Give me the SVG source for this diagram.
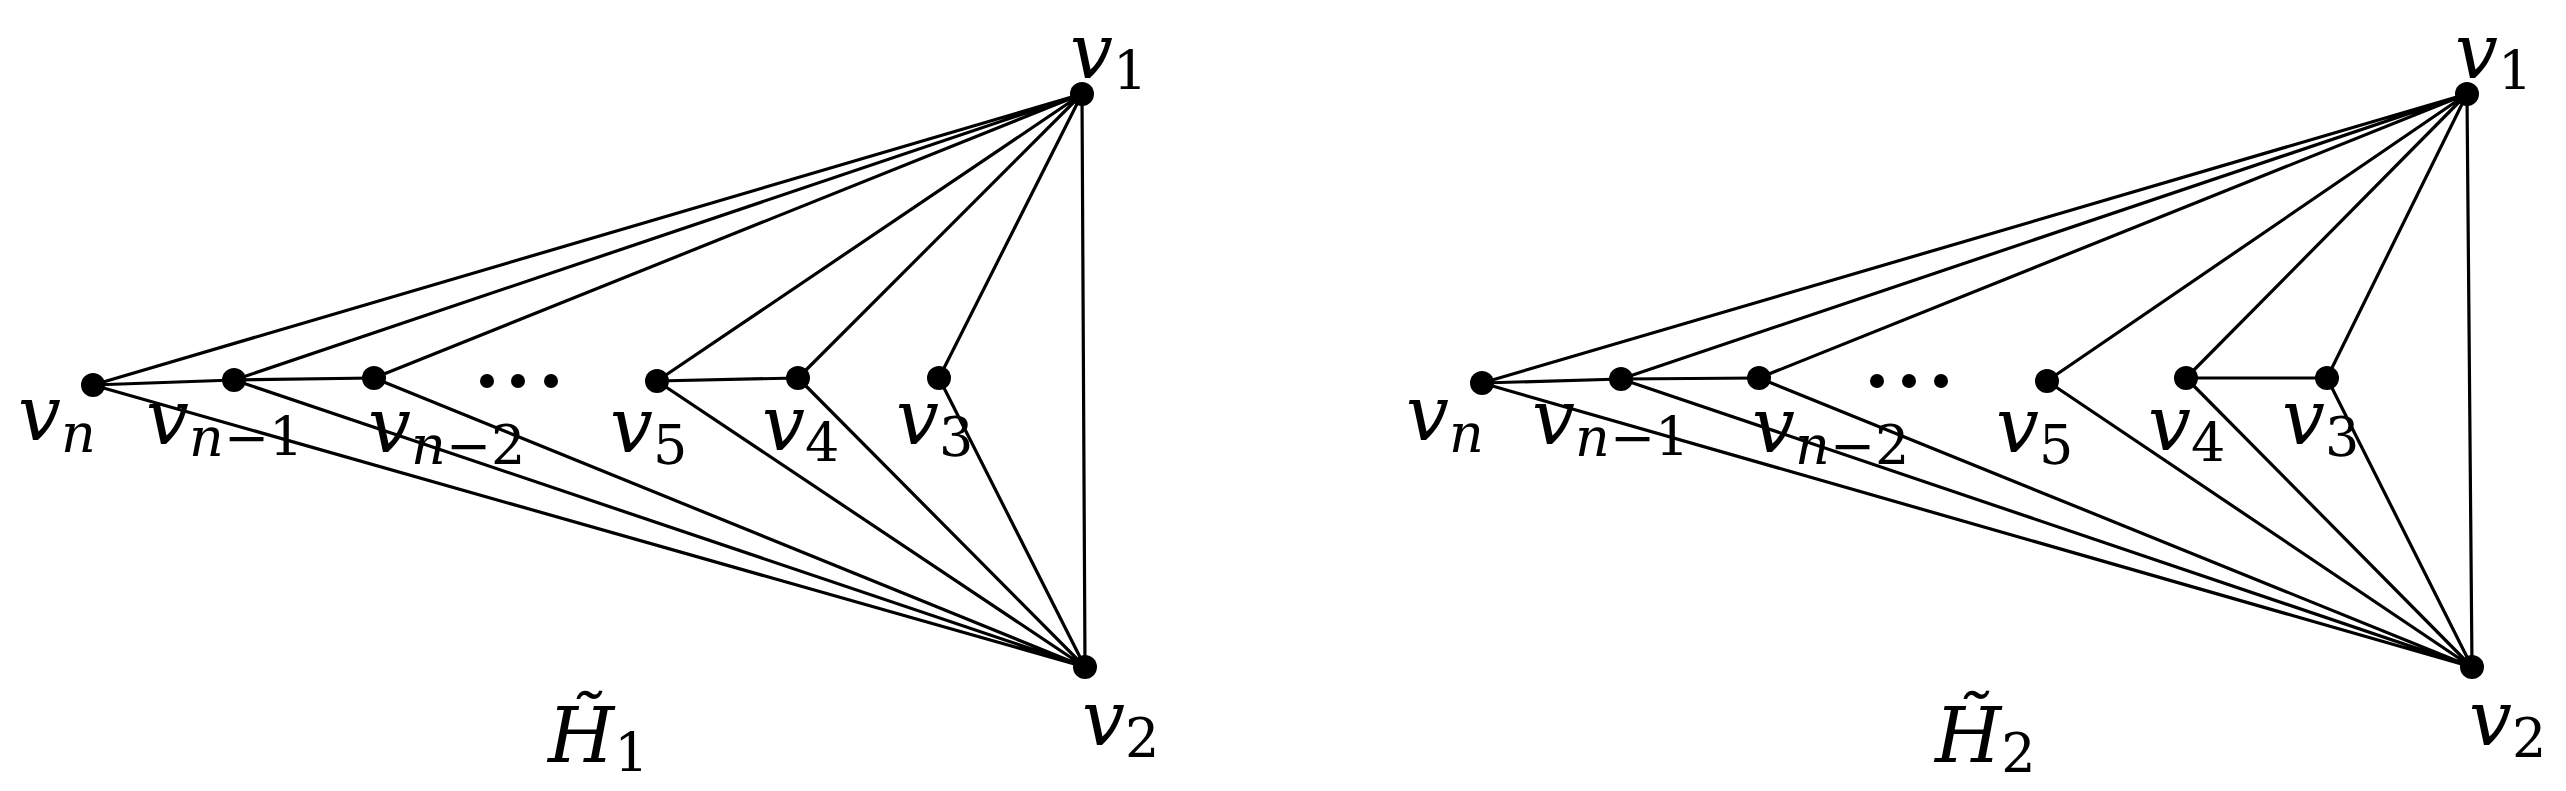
<svg xmlns="http://www.w3.org/2000/svg" width="2566" height="791" viewBox="0 0 2566 791">
<style>
.e{stroke:#000;stroke-width:3.2;fill:none}
.n{fill:#000}
text{font-family:"DejaVu Serif","Liberation Serif",serif;font-size:76px;fill:#000}
.i{font-style:italic}
.s{font-size:54px}
</style>
<rect width="2566" height="791" fill="#fff"/>
<g id="connectors">
<g class="e">
<path d="M1082 94L93 385M1082 94L234 380M1082 94L374 378M1082 94L657 381M1082 94L798 378M1082 94L939 378M1082 94L1085 667"/>
<path d="M1085 667L93 385M1085 667L234 380M1085 667L374 378M1085 667L657 381M1085 667L798 378M1085 667L939 378"/>
<path d="M93 385L234 380L374 378M657 381L798 378"/>
<path d="M2467 94L1482 383M2467 94L1621 379M2467 94L1759 378M2467 94L2047 381M2467 94L2186 378M2467 94L2327 378M2467 94L2472 667"/>
<path d="M2472 667L1482 383M2472 667L1621 379M2472 667L1759 378M2472 667L2047 381M2472 667L2186 378M2472 667L2327 378"/>
<path d="M1482 383L1621 379L1759 378M2186 378L2327 378"/>
</g>
</g>
<g id="H1">
<g id="h1v1"><circle class="n" cx="1082" cy="94" r="12"/><text x="1070" y="78"><tspan class="i">v</tspan><tspan class="s" dy="12">1</tspan></text></g>
<g id="h1v2"><circle class="n" cx="1085" cy="667" r="12"/><text x="1082" y="745"><tspan class="i">v</tspan><tspan class="s" dy="12">2</tspan></text></g>
<g id="h1vn"><circle class="n" cx="93" cy="385" r="12"/><text x="18" y="440"><tspan class="i">v</tspan><tspan class="s i" dy="12">n</tspan></text></g>
<g id="h1vn1"><circle class="n" cx="234" cy="380" r="12"/><text x="146" y="444"><tspan class="i">v</tspan><tspan class="s" dy="12"><tspan class="i">n</tspan>−1</tspan></text></g>
<g id="h1vn2"><circle class="n" cx="374" cy="378" r="12"/><text x="368" y="452"><tspan class="i">v</tspan><tspan class="s" dy="12"><tspan class="i">n</tspan>−2</tspan></text></g>
<g id="h1dots"><circle class="n" cx="487" cy="381" r="7"/><circle class="n" cx="518" cy="381" r="7"/><circle class="n" cx="551" cy="381" r="7"/></g>
<g id="h1v5"><circle class="n" cx="657" cy="381" r="12"/><text x="610" y="452"><tspan class="i">v</tspan><tspan class="s" dy="12">5</tspan></text></g>
<g id="h1v4"><circle class="n" cx="798" cy="378" r="12"/><text x="762" y="450"><tspan class="i">v</tspan><tspan class="s" dy="12">4</tspan></text></g>
<g id="h1v3"><circle class="n" cx="939" cy="378" r="12"/><text x="896" y="444"><tspan class="i">v</tspan><tspan class="s" dy="12">3</tspan></text></g>
<g id="h1label"><text x="548" y="762"><tspan class="i">H̃</tspan><tspan class="s" dy="10">1</tspan></text></g>
</g>
<g id="H2">
<g id="h2v1"><circle class="n" cx="2467" cy="94" r="12"/><text x="2455" y="78"><tspan class="i">v</tspan><tspan class="s" dy="12">1</tspan></text></g>
<g id="h2v2"><circle class="n" cx="2472" cy="667" r="12"/><text x="2469" y="745"><tspan class="i">v</tspan><tspan class="s" dy="12">2</tspan></text></g>
<g id="h2vn"><circle class="n" cx="1482" cy="383" r="12"/><text x="1406" y="440"><tspan class="i">v</tspan><tspan class="s i" dy="12">n</tspan></text></g>
<g id="h2vn1"><circle class="n" cx="1621" cy="379" r="12"/><text x="1532" y="444"><tspan class="i">v</tspan><tspan class="s" dy="12"><tspan class="i">n</tspan>−1</tspan></text></g>
<g id="h2vn2"><circle class="n" cx="1759" cy="378" r="12"/><text x="1752" y="452"><tspan class="i">v</tspan><tspan class="s" dy="12"><tspan class="i">n</tspan>−2</tspan></text></g>
<g id="h2dots"><circle class="n" cx="1877" cy="381" r="7"/><circle class="n" cx="1909" cy="381" r="7"/><circle class="n" cx="1941" cy="381" r="7"/></g>
<g id="h2v5"><circle class="n" cx="2047" cy="381" r="12"/><text x="1996" y="452"><tspan class="i">v</tspan><tspan class="s" dy="12">5</tspan></text></g>
<g id="h2v4"><circle class="n" cx="2186" cy="378" r="12"/><text x="2148" y="450"><tspan class="i">v</tspan><tspan class="s" dy="12">4</tspan></text></g>
<g id="h2v3"><circle class="n" cx="2327" cy="378" r="12"/><text x="2282" y="444"><tspan class="i">v</tspan><tspan class="s" dy="12">3</tspan></text></g>
<g id="h2label"><text x="1935" y="762"><tspan class="i">H̃</tspan><tspan class="s" dy="10">2</tspan></text></g>
</g>
</svg>
